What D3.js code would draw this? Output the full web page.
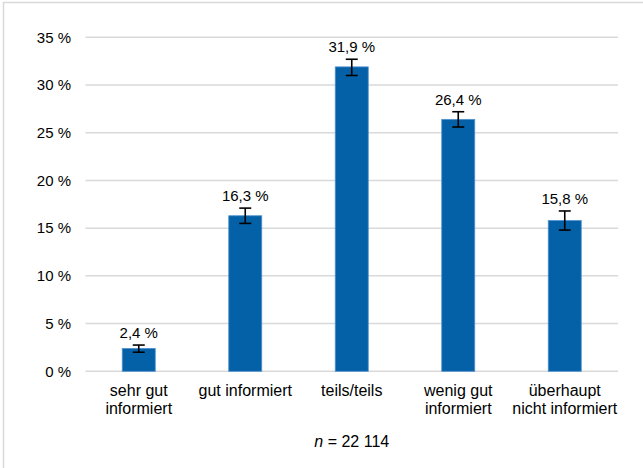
<!DOCTYPE html>
<html>
<head>
  <meta charset="utf-8">
  <title>Informiertheit</title>
  <script src="https://d3js.org/d3.v7.min.js"></script>
  <style>
    body { margin: 0; background: #fff; }
    text { font-family: "Liberation Sans", Arial, sans-serif; fill: #000; }
  </style>
</head>
<body>
<script>
var categories = [["sehr gut", "informiert"], ["gut informiert"], ["teils/teils"], ["wenig gut", "informiert"], ["überhaupt", "nicht informiert"]];
var values = [2.4, 16.3, 31.9, 26.4, 15.8];
var errLow = [2.0, 15.5, 31.0, 25.6, 14.8];
var errHigh = [2.75, 17.1, 32.7, 27.2, 16.8];
var yTicks = [0, 5, 10, 15, 20, 25, 30, 35];

var w = 643, h = 468;
var plotLeft = 85.5, plotRight = 618, plotTop = 37.3, plotBottom = 371.3;

var svg = d3.select("body").append("svg").attr("width", w).attr("height", h);

// outer frame (only top/left visible in the picture)
svg.append("rect").attr("x", 3.5).attr("y", 2.5).attr("width", 700).attr("height", 600)
  .attr("fill", "none").attr("stroke", "#d9d9d9").attr("stroke-width", 1.5);

var x = d3.scaleBand().domain(d3.range(values.length)).range([plotLeft, plotRight]).paddingInner(0.69).paddingOuter(0.345);
var y = d3.scaleLinear().domain([0, 35]).range([plotBottom, plotTop]);

// gridlines
svg.selectAll("line.grid").data(yTicks).enter().append("line")
  .attr("x1", plotLeft).attr("x2", plotRight)
  .attr("y1", function(d) { return y(d); }).attr("y2", function(d) { return y(d); })
  .attr("stroke", "#d9d9d9").attr("stroke-width", 1.5);

var yAxis = svg.append("g").attr("transform", "translate(" + plotLeft + ",0)")
  .call(d3.axisLeft(y).tickValues(yTicks).tickSize(0).tickPadding(14.5).tickFormat(function(d) { return d + " %"; }));
yAxis.select(".domain").remove();
yAxis.selectAll("text").attr("font-size", 15).style("font-family", "Liberation Sans, Arial, sans-serif").attr("fill", "#000");

// bars
svg.selectAll("rect.bar").data(values).enter().append("rect")
  .attr("x", function(d, i) { return x(i); })
  .attr("y", function(d) { return y(d); })
  .attr("width", x.bandwidth())
  .attr("height", function(d) { return y(0) - y(d); })
  .attr("fill", "#0561a7").attr("stroke", "#4f93cf").attr("stroke-width", 0.8);

// error bars
var eb = svg.selectAll("g.err").data(values).enter().append("g")
  .attr("transform", function(d, i) { return "translate(" + (x(i) + x.bandwidth() / 2) + ",0)"; });
eb.append("line").attr("x1", 0).attr("x2", 0)
  .attr("y1", function(d, i) { return y(errLow[i]); }).attr("y2", function(d, i) { return y(errHigh[i]); })
  .attr("stroke", "#000").attr("stroke-width", 1.6);
eb.append("line").attr("x1", -6).attr("x2", 6)
  .attr("y1", function(d, i) { return y(errHigh[i]); }).attr("y2", function(d, i) { return y(errHigh[i]); })
  .attr("stroke", "#000").attr("stroke-width", 1.6);
eb.append("line").attr("x1", -6).attr("x2", 6)
  .attr("y1", function(d, i) { return y(errLow[i]); }).attr("y2", function(d, i) { return y(errLow[i]); })
  .attr("stroke", "#000").attr("stroke-width", 1.6);

// value labels
svg.selectAll("text.val").data(values).enter().append("text")
  .attr("x", function(d, i) { return x(i) + x.bandwidth() / 2; })
  .attr("y", function(d, i) { return y(errHigh[i]) - 7; })
  .attr("text-anchor", "middle").attr("font-size", 15)
  .text(function(d) { return d.toFixed(1).replace(".", ",") + " %"; });

// category labels
var cat = svg.selectAll("text.cat").data(categories).enter().append("text")
  .attr("text-anchor", "middle").attr("font-size", 16)
  .attr("x", function(d, i) { return x(i) + x.bandwidth() / 2; })
  .attr("y", 396);
cat.selectAll("tspan").data(function(d) { return d; }).enter().append("tspan")
  .attr("x", function() { return d3.select(this.parentNode).attr("x"); })
  .attr("dy", function(d, i) { return i === 0 ? 0 : 17.5; })
  .text(function(d) { return d; });

// sample size
var nt = svg.append("text").attr("x", (plotLeft + plotRight) / 2).attr("y", 447)
  .attr("text-anchor", "middle").attr("font-size", 16);
nt.append("tspan").attr("font-style", "italic").text("n");
nt.append("tspan").text(" = 22 114");
</script>
</body>
</html>
